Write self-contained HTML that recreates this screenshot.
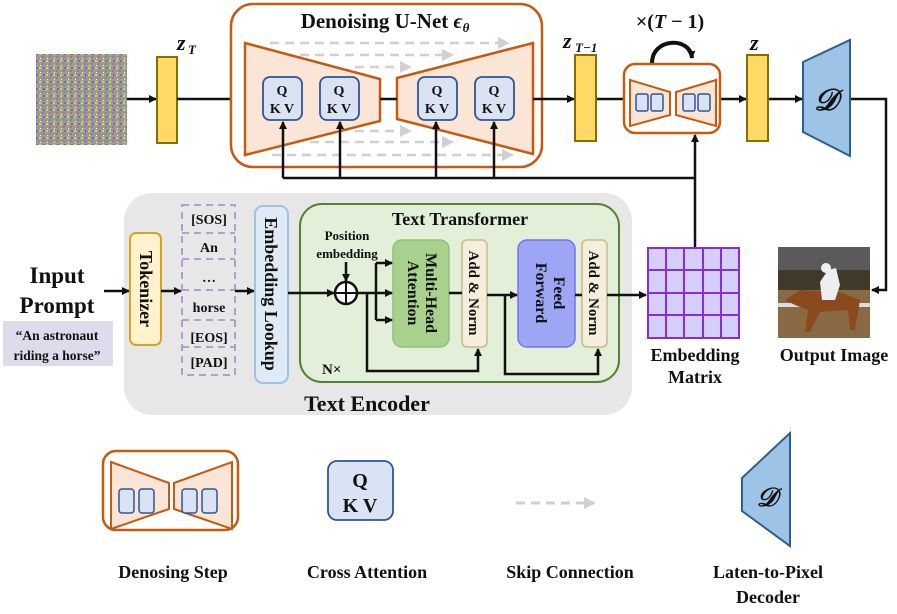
<!DOCTYPE html>
<html><head><meta charset="utf-8"><style>
body{margin:0;background:#fff}
svg text{font-family:"Liberation Serif",serif;font-weight:bold;fill:#111}
</style></head><body>
<svg width="897" height="609" viewBox="0 0 897 609" xmlns="http://www.w3.org/2000/svg">
<defs>
<marker id="a" markerWidth="8" markerHeight="8" refX="7" refY="4" orient="auto" markerUnits="userSpaceOnUse"><path d="M0,0 L8,4 L0,8 Z" fill="#111"/></marker>
<marker id="g" markerWidth="12" markerHeight="12" refX="10" refY="6" orient="auto" markerUnits="userSpaceOnUse"><path d="M0,0 L12,6 L0,12 Z" fill="#d0d0d0"/></marker>
<pattern id="nz" width="7" height="7" patternUnits="userSpaceOnUse">
<rect width="7" height="7" fill="#a09a90"/><rect x="0" y="0" width="2" height="2" fill="#e050b0"/><rect x="3" y="1" width="2" height="2" fill="#40d060"/><rect x="1" y="4" width="2" height="2" fill="#5a70e0"/><rect x="4" y="4" width="2" height="2" fill="#e0d040"/><rect x="5" y="2" width="1" height="1" fill="#fff"/>
</pattern>
</defs>
<rect x="36" y="54" width="91" height="91" fill="url(#nz)"/>
<line x1="127" y1="99" x2="156" y2="99" stroke="#111" stroke-width="2.5" marker-end="url(#a)"/>
<rect x="157" y="57" width="20" height="86" fill="#ffd966" stroke="#8a6d00" stroke-width="2"/>
<text x="177" y="50" font-size="22" font-style="italic">z</text><text x="188" y="54" font-size="13" font-style="italic">T</text>
<line x1="177" y1="99" x2="245" y2="99" stroke="#111" stroke-width="2.5"/>
<rect x="231" y="4" width="311" height="163" rx="22" fill="#fff" stroke="#c55a11" stroke-width="2.5"/>
<text x="385" y="28" font-size="21" text-anchor="middle">Denoising U-Net <tspan font-style="italic">ϵ</tspan><tspan font-size="13" dy="4" font-style="italic">θ</tspan></text>
<polygon points="245,43 380,79 380,121 245,155" fill="#fbe5d6" stroke="#c55a11" stroke-width="2.5"/>
<polygon points="397,78 533,43 533,154 397,119" fill="#fbe5d6" stroke="#c55a11" stroke-width="2.5"/>
<line x1="380" y1="99" x2="397" y2="99" stroke="#111" stroke-width="2.5"/>
<g stroke="#d0d0d0" stroke-width="2.5" stroke-dasharray="9,6" fill="none">
<line x1="270" y1="43" x2="508" y2="43" marker-end="url(#g)"/>
<line x1="300" y1="55" x2="452" y2="55" marker-end="url(#g)"/>
<line x1="355" y1="67" x2="410" y2="67" marker-end="url(#g)"/>
<line x1="355" y1="131" x2="410" y2="131" marker-end="url(#g)"/>
<line x1="310" y1="142" x2="452" y2="142" marker-end="url(#g)"/>
<line x1="272" y1="155" x2="512" y2="155" marker-end="url(#g)"/>
</g>
<g font-size="14" text-anchor="middle">
<rect x="263" y="77" width="39" height="43" rx="7" fill="#dae3f3" stroke="#2f5597" stroke-width="1.8"/><text x="282" y="95">Q</text><text x="282" y="113">K V</text>
<rect x="320" y="77" width="39" height="43" rx="7" fill="#dae3f3" stroke="#2f5597" stroke-width="1.8"/><text x="339" y="95">Q</text><text x="339" y="113">K V</text>
<rect x="418" y="77" width="39" height="43" rx="7" fill="#dae3f3" stroke="#2f5597" stroke-width="1.8"/><text x="437" y="95">Q</text><text x="437" y="113">K V</text>
<rect x="475" y="77" width="39" height="43" rx="7" fill="#dae3f3" stroke="#2f5597" stroke-width="1.8"/><text x="494" y="95">Q</text><text x="494" y="113">K V</text>
</g>
<g stroke="#111" stroke-width="2.5" fill="none">
<polyline points="283,178 695,178"/>
<line x1="283" y1="178" x2="283" y2="122" marker-end="url(#a)"/>
<line x1="340" y1="178" x2="340" y2="122" marker-end="url(#a)"/>
<line x1="436" y1="178" x2="436" y2="122" marker-end="url(#a)"/>
<line x1="494" y1="178" x2="494" y2="122" marker-end="url(#a)"/>
<line x1="695" y1="248" x2="695" y2="135" marker-end="url(#a)"/>
<line x1="533" y1="99" x2="574" y2="99" marker-end="url(#a)"/>
<line x1="597" y1="99" x2="624" y2="99"/>
<line x1="720" y1="99" x2="746" y2="99" marker-end="url(#a)"/>
<line x1="768" y1="99" x2="802" y2="99" marker-end="url(#a)"/>
<polyline points="851,99 886,99 886,290 872,290" marker-end="url(#a)"/>
<path d="M652,63 C652,38 690,36 692,58" stroke-width="4" marker-end="url(#a)"/>
</g>
<rect x="575" y="55" width="21" height="86" fill="#ffd966" stroke="#8a6d00" stroke-width="2"/>
<text x="563" y="48" font-size="22" font-style="italic">z</text><text x="575" y="52" font-size="13" font-style="italic">T−1</text>
<text x="670" y="28" font-size="20" text-anchor="middle" font-weight="normal">×(<tspan font-style="italic">T</tspan> − 1)</text>
<rect x="624" y="64" width="96" height="69" rx="11" fill="#fff" stroke="#c55a11" stroke-width="2.5"/>
<polygon points="630,80 670,92 670,115 630,126" fill="#fbe5d6" stroke="#c55a11" stroke-width="2"/>
<polygon points="676,92 716,80 716,126 676,115" fill="#fbe5d6" stroke="#c55a11" stroke-width="2"/>
<g fill="#dae3f3" stroke="#2f5597" stroke-width="1.5">
<rect x="636" y="94" width="12" height="17" rx="2"/><rect x="651" y="94" width="12" height="17" rx="2"/>
<rect x="683" y="94" width="12" height="17" rx="2"/><rect x="698" y="94" width="12" height="17" rx="2"/>
</g>
<rect x="747" y="55" width="21" height="86" fill="#ffd966" stroke="#8a6d00" stroke-width="2"/>
<text x="750" y="50" font-size="22" font-style="italic">z</text>
<polygon points="803,62 850,40 850,156 803,132" fill="#9dc3e6" stroke="#2e5e8e" stroke-width="2"/>
<text x="826" y="110" font-size="30" font-style="italic" text-anchor="middle">𝒟</text>
<rect x="124" y="193" width="508" height="222" rx="28" fill="#e7e7e7"/>
<text x="367" y="411" font-size="22" text-anchor="middle">Text Encoder</text>
<text x="57" y="283" font-size="23" text-anchor="middle">Input</text>
<text x="57" y="313" font-size="23" text-anchor="middle">Prompt</text>
<rect x="3" y="321" width="110" height="45" fill="#dcdcec"/>
<text x="57" y="340" font-size="13.5" text-anchor="middle">“An astronaut</text>
<text x="57" y="360" font-size="13.5" text-anchor="middle">riding a horse”</text>
<line x1="104" y1="291" x2="129" y2="291" stroke="#111" stroke-width="2.5" marker-end="url(#a)"/>
<rect x="130" y="233" width="31" height="112" rx="6" fill="#fff2cc" stroke="#d6a520" stroke-width="2"/>
<text transform="translate(140,289) rotate(90)" font-size="18" text-anchor="middle">Tokenizer</text>
<line x1="161" y1="291" x2="181" y2="291" stroke="#111" stroke-width="2.5" marker-end="url(#a)"/>
<g stroke="#a896c8" stroke-width="1.8" stroke-dasharray="7,5" fill="none">
<rect x="182" y="205" width="53" height="170"/>
<line x1="182" y1="233" x2="235" y2="233"/><line x1="182" y1="259" x2="235" y2="259"/>
<line x1="182" y1="290" x2="235" y2="290"/><line x1="182" y1="320" x2="235" y2="320"/><line x1="182" y1="347" x2="235" y2="347"/>
</g>
<g font-size="14" text-anchor="middle">
<text x="209" y="224">[SOS]</text><text x="209" y="252">An</text><text x="209" y="282">…</text>
<text x="209" y="312">horse</text><text x="209" y="342">[EOS]</text><text x="209" y="367">[PAD]</text>
</g>
<line x1="235" y1="291" x2="254" y2="291" stroke="#111" stroke-width="2.5" marker-end="url(#a)"/>
<rect x="255" y="206" width="33" height="177" rx="8" fill="#deebf7" stroke="#9dc3e6" stroke-width="2"/>
<text transform="translate(265,294) rotate(90)" font-size="18" text-anchor="middle">Embedding Lookup</text>
<rect x="300" y="204" width="319" height="178" rx="22" fill="#e2efd9" stroke="#548235" stroke-width="2"/>
<text x="460" y="225" font-size="18" text-anchor="middle">Text Transformer</text>
<text x="347" y="240" font-size="13" text-anchor="middle">Position</text>
<text x="347" y="258" font-size="13" text-anchor="middle">embedding</text>
<rect x="393" y="240" width="56" height="107" rx="9" fill="#a9d18e" stroke="#94bd7c" stroke-width="1.5"/>
<text transform="translate(426,293) rotate(90)" font-size="16" text-anchor="middle">Multi-Head</text>
<text transform="translate(408,293) rotate(90)" font-size="16" text-anchor="middle">Attention</text>
<rect x="462" y="240" width="25" height="107" rx="5" fill="#f6eedc" stroke="#c9b98a" stroke-width="1.5"/>
<text transform="translate(469,293) rotate(90)" font-size="15" text-anchor="middle">Add &amp; Norm</text>
<rect x="518" y="240" width="57" height="107" rx="9" fill="#9da6f5" stroke="#7b6ff0" stroke-width="1.5"/>
<text transform="translate(554,293) rotate(90)" font-size="16" text-anchor="middle">Feed</text>
<text transform="translate(536,293) rotate(90)" font-size="16" text-anchor="middle">Forward</text>
<rect x="582" y="240" width="25" height="107" rx="5" fill="#f6eedc" stroke="#c9b98a" stroke-width="1.5"/>
<text transform="translate(589,293) rotate(90)" font-size="15" text-anchor="middle">Add &amp; Norm</text>
<text x="322" y="374" font-size="15">N×</text>
<g stroke="#111" stroke-width="2.5" fill="none">
<line x1="288" y1="293" x2="334" y2="293" marker-end="url(#a)"/>
<line x1="346" y1="262" x2="346" y2="281" marker-end="url(#a)"/>
<line x1="357" y1="293" x2="392" y2="293" marker-end="url(#a)"/>
<polyline points="376,263 376,320"/>
<line x1="376" y1="263" x2="392" y2="263" marker-end="url(#a)"/>
<line x1="376" y1="320" x2="392" y2="320" marker-end="url(#a)"/>
<polyline points="367,293 367,371 478,371 478,349" marker-end="url(#a)"/>
<line x1="449" y1="293" x2="462" y2="293"/>
<line x1="487" y1="295" x2="517" y2="295" marker-end="url(#a)"/>
<polyline points="505,295 505,374 598,374 598,349" marker-end="url(#a)"/>
<line x1="575" y1="295" x2="582" y2="295"/>
<line x1="607" y1="295" x2="646" y2="295" marker-end="url(#a)"/>
</g>
<circle cx="346" cy="293" r="11" fill="#fff" stroke="#111" stroke-width="2.5"/>
<path d="M335,293 H357 M346,282 V304" stroke="#111" stroke-width="2"/>
<rect x="648" y="248" width="91" height="90" fill="#d5d0fb" stroke="#8a2be2" stroke-width="2"/>
<g stroke="#8a2be2" stroke-width="2">
<line x1="666" y1="248" x2="666" y2="338"/><line x1="684" y1="248" x2="684" y2="338"/><line x1="703" y1="248" x2="703" y2="338"/><line x1="721" y1="248" x2="721" y2="338"/>
<line x1="648" y1="270" x2="739" y2="270"/><line x1="648" y1="293" x2="739" y2="293"/><line x1="648" y1="315" x2="739" y2="315"/>
</g>
<text x="695" y="361" font-size="18" text-anchor="middle">Embedding</text>
<text x="695" y="383" font-size="18" text-anchor="middle">Matrix</text>
<rect x="778" y="247" width="92" height="47" fill="#5a5a5a"/>
<rect x="778" y="270" width="92" height="20" fill="#3f3a2a"/>
<rect x="778" y="290" width="92" height="48" fill="#8a6a45"/>
<rect x="778" y="303" width="92" height="4" fill="#ddd"/>
<path d="M785,300 L800,290 L840,292 L860,300 L855,330 L850,330 L848,310 L820,312 L810,332 L805,332 L808,310 L795,305 Z" fill="#8b4a1e"/>
<path d="M820,282 L828,270 L836,268 L840,285 L835,300 L822,300 Z" fill="#eee"/>
<circle cx="826" cy="268" r="5" fill="#eee"/>
<text x="834" y="361" font-size="18" text-anchor="middle">Output Image</text>
<rect x="103" y="451" width="135" height="79" rx="13" fill="#fff" stroke="#c55a11" stroke-width="2.5"/>
<polygon points="111,462 169,483 169,509 111,529" fill="#fbe5d6" stroke="#c55a11" stroke-width="2"/>
<polygon points="174,483 232,462 232,529 174,509" fill="#fbe5d6" stroke="#c55a11" stroke-width="2"/>
<g fill="#dae3f3" stroke="#2f5597" stroke-width="1.5">
<rect x="119" y="489" width="15" height="24" rx="3"/><rect x="139" y="489" width="15" height="24" rx="3"/>
<rect x="182" y="489" width="15" height="24" rx="3"/><rect x="202" y="489" width="15" height="24" rx="3"/>
</g>
<rect x="328" y="461" width="65" height="59" rx="9" fill="#dae3f3" stroke="#2f5597" stroke-width="1.8"/>
<text x="360" y="487" font-size="20" text-anchor="middle">Q</text>
<text x="360" y="512" font-size="20" text-anchor="middle">K V</text>
<line x1="516" y1="503" x2="594" y2="503" stroke="#d0d0d0" stroke-width="3" stroke-dasharray="9,6" marker-end="url(#g)"/>
<polygon points="742,478 790,433 790,546 742,511" fill="#9dc3e6" stroke="#2e5e8e" stroke-width="2"/>
<text x="767" y="506" font-size="26" font-style="italic" text-anchor="middle">𝒟</text>
<g font-size="18" text-anchor="middle">
<text x="173" y="578">Denosing Step</text>
<text x="367" y="578">Cross Attention</text>
<text x="570" y="578">Skip Connection</text>
<text x="768" y="578">Laten-to-Pixel</text>
<text x="768" y="603">Decoder</text>
</g>
</svg>
</body></html>
